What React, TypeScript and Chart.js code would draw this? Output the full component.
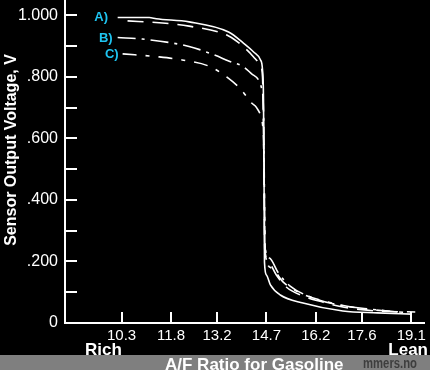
import React, { useEffect, useRef } from "react";
import { Chart, registerables } from "chart.js";
Chart.register(...registerables);

// A/F ratio tick labels (lambda 0.7 ... 1.3)
const xTickValues = [10.3, 11.8, 13.2, 14.7, 16.2, 17.6, 19.1];
const yLabelValues = [0, 0.2, 0.4, 0.6, 0.8, 1.0];
const yTickMarks = [0.1, 0.2, 0.3, 0.4, 0.5, 0.6, 0.7, 0.8, 0.9, 1.0];

// Curve A (solid)
const afA1 = [10.18, 11.14, 11.35, 12.35, 13.55, 14.0, 14.31, 14.52, 14.58, 14.61, 14.63, 14.64, 14.7, 14.82, 15.12, 15.81, 17.02, 18.07, 19.12];
const vA1 = [0.993, 0.993, 0.989, 0.979, 0.946, 0.91, 0.881, 0.855, 0.823, 0.725, 0.4, 0.198, 0.156, 0.124, 0.091, 0.065, 0.039, 0.033, 0.029];
// Curve A (dashed companion)
const afA2 = [10.48, 11.44, 12.35, 13.55, 14.0, 14.31, 14.52, 14.58, 14.62, 14.65, 14.76, 15.0, 15.3, 15.81, 16.41, 17.02, 18.07, 19.22];
const vA2 = [0.982, 0.976, 0.965, 0.933, 0.898, 0.865, 0.836, 0.8, 0.55, 0.237, 0.198, 0.156, 0.117, 0.088, 0.068, 0.052, 0.039, 0.036];
// Curve B (dash-dot)
const afB = [10.18, 10.93, 12.35, 13.1, 13.55, 14.0, 14.25, 14.46, 14.55, 14.61, 14.64, 14.65, 14.79, 15.06, 15.42, 15.96, 16.87, 17.77, 18.67];
const vB = [0.928, 0.923, 0.899, 0.872, 0.852, 0.833, 0.81, 0.79, 0.764, 0.693, 0.4, 0.254, 0.211, 0.163, 0.12, 0.088, 0.059, 0.046, 0.036];
// Curve C (dash-dot)
const afC = [10.33, 11.44, 12.14, 12.95, 13.49, 13.91, 14.25, 14.4, 14.55, 14.61, 14.64, 14.67, 14.85, 15.21, 15.66, 16.57, 17.47, 19.03];
const vC = [0.875, 0.865, 0.855, 0.835, 0.8, 0.761, 0.715, 0.7, 0.66, 0.595, 0.4, 0.221, 0.179, 0.133, 0.101, 0.068, 0.049, 0.033];

const curveLabels = ["A)", "B)", "C)"];
const curveLabelAF = [9.68, 9.82, 10.0];
const curveLabelV = [0.992, 0.924, 0.872];

const FONT = "'Liberation Sans', Arial, Helvetica, sans-serif";

const toPts = (xs: number[], ys: number[]) => xs.map((x, i) => ({ x, y: ys[i] }));

const decor = {
  id: "decor",
  beforeDraw(chart: any) {
    const { ctx, width, height } = chart;
    ctx.save();
    ctx.fillStyle = "#000";
    ctx.fillRect(0, 0, width, height);
    ctx.restore();
  },
  afterDraw(chart: any) {
    const { ctx, width, height, chartArea } = chart;
    const xs = chart.scales.x;
    const ys = chart.scales.y;
    ctx.save();
    // tick marks inside the plot
    ctx.strokeStyle = "#fff";
    ctx.lineWidth = 2;
    xTickValues.forEach((v) => {
      const px = Math.round(xs.getPixelForValue(v));
      ctx.beginPath();
      ctx.moveTo(px, chartArea.bottom);
      ctx.lineTo(px, chartArea.bottom - 11);
      ctx.stroke();
    });
    yTickMarks.forEach((v) => {
      const py = Math.round(ys.getPixelForValue(v));
      ctx.beginPath();
      ctx.moveTo(chartArea.left, py);
      ctx.lineTo(chartArea.left + 12, py);
      ctx.stroke();
    });
    // y title
    ctx.fillStyle = "#fff";
    ctx.font = `bold 16px ${FONT}`;
    ctx.textAlign = "center";
    ctx.textBaseline = "middle";
    ctx.save();
    ctx.translate(12, 150);
    ctx.rotate(-Math.PI / 2);
    ctx.fillText("Sensor Output Voltage, V", 0, 0);
    ctx.restore();
    // Rich / Lean
    ctx.font = `bold 17px ${FONT}`;
    ctx.textBaseline = "alphabetic";
    ctx.textAlign = "left";
    ctx.fillText("Rich", 85, 355);
    ctx.textAlign = "right";
    ctx.fillText("Lean", 428, 355);
    // grey band
    ctx.fillStyle = "#7f7f7f";
    ctx.fillRect(0, 355, width, height - 355);
    // x title
    ctx.fillStyle = "#fff";
    ctx.textAlign = "left";
    ctx.font = `bold 17px ${FONT}`;
    ctx.fillText("A/F Ratio for Gasoline", 165, 370);
    // watermark
    ctx.fillStyle = "rgba(45,45,45,0.8)";
    ctx.font = `bold 14px ${FONT}`;
    ctx.fillText("mmers.no", 363, 368, 54);
    // curve labels
    ctx.fillStyle = "#1ec4f0";
    ctx.font = `bold 13px ${FONT}`;
    ctx.textAlign = "center";
    ctx.textBaseline = "middle";
    curveLabels.forEach((t, i) => {
      ctx.fillText(t, xs.getPixelForValue(curveLabelAF[i]), ys.getPixelForValue(curveLabelV[i]));
    });
    ctx.restore();
  },
};

export default function App() {
  const ref = useRef<HTMLCanvasElement>(null);
  useEffect(() => {
    document.body.style.margin = "0";
    document.body.style.background = "#000";
    const common = {
      borderColor: "#fff",
      borderWidth: 1.6,
      pointRadius: 0,
      fill: false,
      cubicInterpolationMode: "monotone" as const,
    };
    const chart = new Chart(ref.current!, {
      type: "line",
      data: {
        datasets: [
          { ...common, label: "A", data: toPts(afA1, vA1) },
          { ...common, label: "A2", data: toPts(afA2, vA2), borderDash: [16, 9] },
          { ...common, label: "B", data: toPts(afB, vB), borderDash: [18, 6, 3, 6] },
          { ...common, label: "C", data: toPts(afC, vC), borderDash: [14, 9, 4, 9] },
        ],
      },
      options: {
        animation: false,
        responsive: false,
        devicePixelRatio: 1,
        layout: { padding: { top: 0, right: 3, left: 0, bottom: 0 } },
        plugins: { legend: { display: false }, tooltip: { enabled: false } },
        scales: {
          x: {
            type: "linear",
            min: 8.58,
            max: 19.5,
            afterBuildTicks: (s: any) => {
              s.ticks = xTickValues.map((value) => ({ value }));
            },
            afterFit: (s: any) => {
              s.height = 47;
            },
            ticks: {
              color: "#fff",
              font: { family: FONT, size: 15 },
              padding: 4,
              autoSkip: false,
              maxRotation: 0,
              callback: (v: any) => Number(v).toFixed(1),
            },
            grid: { display: false, drawTicks: false },
            border: { display: true, color: "#fff", width: 2 },
          },
          y: {
            type: "linear",
            min: 0,
            max: 1.05,
            afterBuildTicks: (s: any) => {
              s.ticks = yLabelValues.map((value) => ({ value }));
            },
            afterFit: (s: any) => {
              s.width = 65;
              s.paddingTop = 0;
              s.paddingBottom = 0;
            },
            ticks: {
              color: "#fff",
              font: { family: FONT, size: 16 },
              padding: 7,
              autoSkip: false,
              callback: (v: any) => {
                const n = Number(v);
                if (n === 0) return "0";
                if (Math.abs(n - 1) < 1e-9) return "1.000";
                return "." + (n * 1000).toFixed(0);
              },
            },
            grid: { display: false, drawTicks: false },
            border: { display: true, color: "#fff", width: 2 },
          },
        },
      },
      plugins: [decor],
    });
    return () => chart.destroy();
  }, []);
  return (
    <div style={{ position: "absolute", left: 0, top: 0, width: 430, height: 370, background: "#000" }}>
      <canvas ref={ref} width={430} height={370} style={{ display: "block", width: 430, height: 370 }} />
    </div>
  );
}
